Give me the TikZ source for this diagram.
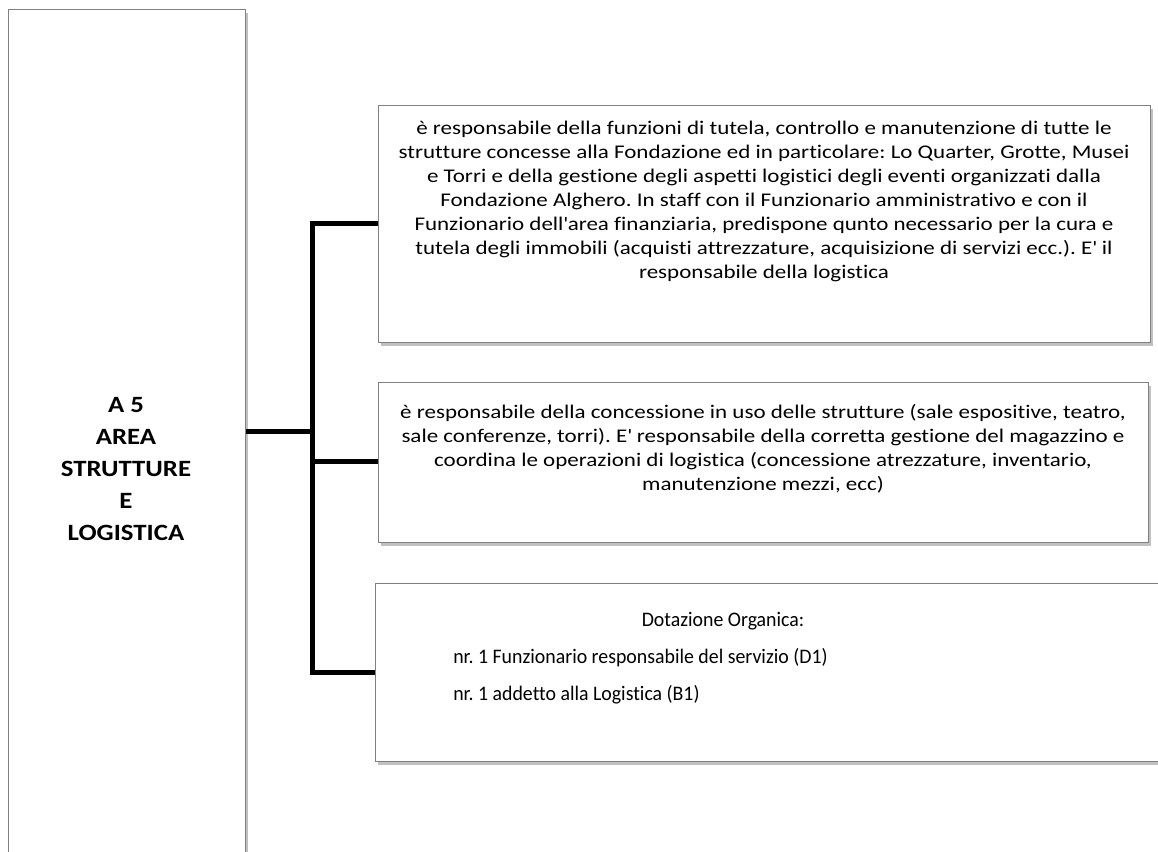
\documentclass[tikz,border=0pt]{standalone}
\usepackage{fontspec}
\setmainfont{Carlito}[Ligatures=NoCommon]
\newfontfamily\widefont{Carlito}[FakeStretch=1.19,Ligatures=NoCommon]
\newfontfamily\headfont{Carlito}[FakeStretch=1.15,Ligatures=NoCommon]
\newfontfamily\narrowfont{Carlito}[FakeStretch=0.96,Ligatures=NoCommon]
\frenchspacing
\usetikzlibrary{shadows}
\begin{document}
\begin{tikzpicture}[x=0.75pt,y=-0.75pt,
  box/.style={draw=black!50, line width=1pt, fill=white, inner sep=0pt, anchor=north west,
    drop shadow={shadow xshift=1.5pt, shadow yshift=-2.2pt, opacity=0.35, fill=black!70}},
  conn/.style={line width=3.75pt, black, line join=miter},
  txt/.style={font=\widefont\frenchspacing\fontsize{14.5}{18}\selectfont, align=center, inner sep=0pt},
  txtb/.style={font=\narrowfont\frenchspacing\fontsize{15.5}{18}\selectfont, align=center, inner sep=0pt},
  head/.style={font=\headfont\fontsize{17.5}{24}\selectfont\bfseries, align=center, inner sep=0pt}]
\useasboundingbox (0,0) rectangle (1158,852);
\clip (0,0) rectangle (1158,852);
% boxes
\node[box, minimum width=177.75pt, minimum height=675pt] (L) at (8,9) {};
\node[box, minimum width=579pt, minimum height=177.75pt] (B1) at (378,105) {};
\node[box, minimum width=577.5pt, minimum height=120pt] (B2) at (378,382) {};
\node[box, minimum width=600pt, minimum height=133.5pt] (B3) at (375,583) {};
% texts
\node[head] (LT) at (126,469) {A 5\\AREA\\STRUTTURE\\E\\LOGISTICA};
\node[txt] (T1) at (764,201) {è responsabile della funzioni di tutela, controllo e manutenzione di tutte le\\
strutture concesse alla Fondazione ed in particolare: Lo Quarter, Grotte, Musei\\
e Torri e della gestione degli aspetti logistici degli eventi organizzati dalla\\
Fondazione Alghero. In staff con il Funzionario amministrativo e con il\\
Funzionario dell\textquotesingle area finanziaria, predispone qunto necessario per la cura e\\
tutela degli immobili (acquisti attrezzature, acquisizione di servizi ecc.). E\textquotesingle{} il\\
responsabile della logistica};
\node[txt] (T2) at (763,449) {è responsabile della concessione in uso delle strutture (sale espositive, teatro,\\
sale conferenze, torri). E\textquotesingle{} responsabile della corretta gestione del magazzino e\\
coordina le operazioni di logistica (concessione atrezzature, inventario,\\
manutenzione mezzi, ecc)};
\node[txtb] (T3) at (723,621) {Dotazione Organica:};
\node[txtb, anchor=west] (T4) at (453,658) {nr. 1 Funzionario responsabile del servizio (D1)};
\node[txtb, anchor=west] (T5) at (453,695) {nr. 1 addetto alla Logistica (B1)};
% connectors
\coordinate (J) at (312,432);
\coordinate (Jt) at (312,224);
\coordinate (Jm) at (312,462);
\coordinate (Jb) at (312,672);
\draw[conn] (L.east |- J) -- (J);
\draw[conn] (B1.west |- Jt) -- (Jt) -- (Jb) -- (B3.west |- Jb);
\draw[conn] (Jm) -- (B2.west |- Jm);
\end{tikzpicture}
\end{document}
